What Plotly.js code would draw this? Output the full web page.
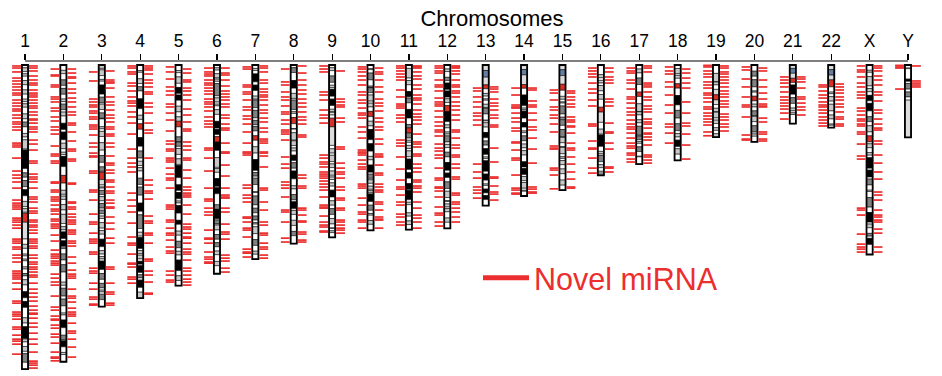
<!DOCTYPE html>
<html><head><meta charset="utf-8">
<script src="https://cdn.plot.ly/plotly-3.0.1.min.js"></script>
<style>html,body{margin:0;padding:0;background:#fff}#chart{width:942px;height:376px}</style>
</head><body><div id="chart"></div>
<script>
// ---- data ----
const chromosomes = ['1','2','3','4','5','6','7','8','9','10','11','12','13','14','15','16','17','18','19','20','21','22','X','Y'];
const chromLengths = [249.25,243.2,198.0,191.15,180.9,171.1,159.1,146.4,141.2,135.5,135.0,133.85,115.2,107.35,102.5,90.35,81.2,78.1,59.1,63.0,48.1,51.3,155.3,59.4];
// stain codes: 0 gneg,1 gpos25,2 gpos50,3 gpos75,4 gpos100,5 acen,6 gvar,7 stalk
const stainColors = ['#ffffff','#c8c8c8','#c8c8c8','#828282','#000000','#d92f27','#dcdcdc','#647fa4'];
// cytobands per chromosome: [end (Mb), stain code], start = previous end
const cytobands = [
[[2.3,0],[5.4,1],[7.2,0],[9.2,1],[12.7,0],[16.2,2],[20.4,0],[23.9,1],[28,0],[30,1],[31.8,0],[34.6,1],[40.1,0],[44.1,1],[46.8,0],[50.7,3],[56.1,0],[59,2],[61.3,0],[68.9,2],[69.7,0],[84.9,4],[88.4,0],[92,3],[94.7,0],[99.7,3],[102.2,0],[107.2,4],[111.8,0],[116.1,2],[117.8,0],[120.7,2],[121.5,0],[128.9,5],[142.6,6],[147,0],[150.3,2],[155,0],[156.5,2],[159.1,0],[160.5,2],[165.5,0],[167.2,2],[170.9,0],[172.9,3],[176,0],[180.3,2],[185.8,0],[190.8,4],[193.8,0],[198.7,4],[207.2,0],[211.5,1],[214.5,0],[224.1,4],[224.6,0],[227,1],[230.7,0],[234.7,2],[236.6,0],[243.7,3],[249.25,0]],
[[4.4,0],[7.1,2],[12.2,0],[16.7,3],[19.2,0],[24,3],[27.9,0],[30,1],[32.1,0],[36.6,3],[38.6,0],[41.8,2],[47.8,0],[52.9,4],[55,0],[61.3,4],[64.1,0],[68.6,2],[71.5,0],[73.5,2],[75,0],[83.3,4],[90.5,0],[96.8,5],[102.7,0],[106,2],[107.5,0],[110.2,1],[114.4,0],[118.8,2],[122.4,0],[129.9,2],[132.5,0],[135.1,1],[136.8,0],[142.2,4],[144.1,0],[148.7,4],[149.9,0],[150.5,1],[154.9,0],[159.8,3],[163.7,0],[169.7,3],[178,0],[180.6,2],[183,0],[189.4,3],[191.9,0],[197.4,3],[203.3,0],[204.9,2],[209,0],[215.3,4],[221.5,0],[225.2,3],[226.1,0],[231,4],[235.6,0],[237.3,2],[243.2,0]],
[[2.8,2],[4,0],[8.7,2],[11.8,0],[13.3,1],[16.4,0],[23.9,4],[26.4,0],[30.9,3],[32.1,0],[36.5,2],[39.3,0],[43.7,3],[44.1,0],[44.2,2],[50.6,0],[52.3,1],[54.4,0],[58.6,2],[63.7,0],[69.8,2],[74.2,0],[79.8,3],[83.5,0],[87.2,3],[87.9,0],[93.9,5],[98.3,6],[100,0],[100.9,1],[102.8,0],[106.2,3],[107.9,0],[111.3,2],[113.5,0],[117.3,3],[119,0],[121.9,3],[123.8,0],[125.8,1],[129.2,0],[133.7,1],[135.7,0],[138.7,1],[142.8,0],[148.9,4],[152.1,0],[155,2],[157,0],[159,2],[160.7,0],[167.6,4],[170.9,0],[175.7,3],[179,0],[182.7,3],[184.5,0],[186,1],[187.9,0],[192.3,3],[198,0]],
[[4.5,0],[6,1],[11.3,0],[15.2,2],[17.8,0],[21.3,3],[27.7,0],[35.8,4],[41.2,0],[44.6,2],[48.2,0],[52.7,5],[59.5,0],[66.6,4],[70.5,0],[76.3,3],[78.9,0],[82.4,2],[84.1,0],[86.9,1],[92.8,0],[97.9,3],[100.1,0],[106.7,3],[113.2,0],[119.9,4],[122.8,0],[134,3],[137.1,0],[140.3,2],[141.5,0],[150.4,4],[152.1,0],[154.6,1],[155.9,0],[158.9,1],[160.9,0],[163.3,4],[164.5,0],[170.1,4],[171.9,0],[174.5,3],[176.3,0],[182.3,4],[186.2,0],[191.15,1]],
[[4.5,0],[6.3,1],[9.8,0],[15,2],[18.4,0],[23.3,4],[24.6,0],[28.9,4],[33.8,0],[38.4,1],[42.5,0],[46.1,2],[50.7,5],[58.9,0],[62.9,3],[63.2,0],[66.7,3],[68.4,0],[73.3,2],[76.9,0],[81.5,2],[82.4,0],[92.3,4],[98.2,0],[102.8,4],[104.5,0],[109.6,4],[111.5,0],[113.1,2],[115.2,0],[121.4,4],[127.3,0],[130.6,4],[136.2,0],[139.5,1],[144.5,0],[149.8,3],[152.7,0],[155.7,2],[159.9,0],[168.5,4],[172.8,0],[176.6,1],[180.9,0]],
[[2.3,0],[4.2,1],[7.1,0],[10.6,2],[11.6,0],[13.4,1],[15.2,0],[25.2,3],[27,0],[30.4,2],[32.1,0],[33.5,1],[36.6,0],[40.5,1],[46.2,0],[51.8,4],[52.9,0],[57,4],[58.7,0],[63.3,5],[63.4,0],[70,4],[75.9,0],[83.9,2],[84.9,0],[88,2],[93.1,0],[99.5,4],[100.6,0],[105.5,4],[114.6,0],[118.3,3],[118.5,0],[126.1,4],[127.1,0],[130.3,3],[131.2,0],[135.2,2],[139,0],[142.8,3],[145.6,0],[149,3],[152.5,0],[155.5,2],[161,0],[164.5,2],[171.1,0]],
[[2.8,0],[4.5,1],[7.3,0],[13.8,4],[16.5,0],[20.9,4],[25.5,0],[28,2],[28.8,0],[35,3],[37.2,0],[43.3,3],[45.4,0],[49,3],[50.5,0],[54,3],[58,0],[61.7,5],[67,0],[72.2,2],[77.5,0],[86.4,4],[88.2,0],[91.1,3],[92.8,0],[98,3],[103.8,0],[104.5,2],[107.4,0],[114.6,3],[117.4,0],[121.1,3],[123.8,0],[127.1,3],[129.2,0],[130.4,1],[132.6,0],[138.2,2],[143.1,0],[147.9,3],[152.6,0],[155.1,1],[159.1,0]],
[[2.2,0],[6.2,3],[12.7,0],[19,4],[23.3,0],[27.4,2],[28.8,0],[36.5,3],[38.3,0],[39.7,1],[43.1,0],[48.1,5],[52.2,0],[52.6,3],[55.5,0],[61.6,2],[62.2,0],[66,2],[68,0],[70.5,2],[73.9,0],[78.3,4],[80.1,0],[84.6,3],[86.9,0],[93.3,4],[99,0],[101.6,1],[106.2,0],[110.5,3],[112.1,0],[117.7,4],[119.2,0],[122.5,2],[127.3,0],[131.5,2],[136.4,0],[139.9,3],[146.4,0]],
[[2.2,0],[4.6,1],[9,0],[14.2,3],[16.6,0],[18.5,1],[19.9,0],[25.6,4],[28,0],[33.2,4],[36.3,0],[38.4,1],[38.8,0],[41,6],[43.6,0],[50.7,5],[65.9,6],[68.7,0],[72.2,1],[74,0],[79.2,2],[81.1,0],[84.1,2],[86.9,0],[90.4,2],[91.8,0],[93.9,1],[96.6,0],[99.3,1],[102.6,0],[108.2,4],[111.3,0],[114.9,1],[117.7,0],[122.5,3],[125.8,0],[130.3,1],[133.5,0],[134,1],[135.9,0],[137.4,1],[141.2,0]],
[[3,0],[3.8,1],[6.6,0],[12.2,3],[17.3,0],[18.6,3],[18.7,0],[22.6,3],[24.6,0],[29.6,2],[31.3,0],[34.4,1],[38,0],[42.3,5],[46.1,0],[49.9,1],[52.9,0],[61.2,4],[64.5,0],[70.6,4],[74.9,0],[77.7,2],[82,0],[87.9,4],[89.5,0],[92.9,3],[94.1,0],[97,2],[99.3,0],[101.9,2],[103,0],[104.9,1],[105.8,0],[111.9,4],[114.9,0],[119.1,3],[121.7,0],[123.1,2],[127.5,0],[130.6,2],[135.5,0]],
[[2.8,0],[10.7,2],[12.7,0],[16.2,2],[21.7,0],[26.1,4],[27.2,0],[31,3],[36.4,0],[43.5,4],[48.8,0],[51.6,3],[55.7,5],[59.9,3],[61.7,0],[63.4,1],[65.9,0],[68.4,1],[70.4,0],[75.2,2],[77.1,0],[85.6,4],[88.3,0],[92.8,4],[97.2,0],[102.1,4],[102.9,0],[110.4,4],[112.5,0],[114.5,2],[121.2,0],[123.9,2],[127.8,0],[130.8,2],[135,0]],
[[3.3,0],[5.4,1],[10.1,0],[12.8,3],[14.8,0],[20,4],[21.3,0],[26.3,4],[27.7,0],[30.7,2],[33.3,0],[38.2,5],[46.4,4],[49.1,0],[51.5,1],[54.9,0],[56.6,1],[58.1,0],[63.1,3],[65.1,0],[67.7,2],[71.5,0],[75.3,3],[79.9,0],[86.3,4],[88.6,0],[92.2,4],[95.8,0],[101.2,3],[103.5,0],[108.6,2],[111.1,0],[111.9,1],[113.9,0],[116.4,2],[117.7,0],[120.3,2],[125.4,0],[128.9,2],[133.85,0]],
[[4.5,6],[10,7],[16.3,6],[19.5,5],[23.3,0],[25.5,1],[27.8,0],[28.9,1],[32.2,0],[34.8,2],[35.5,0],[40.1,3],[45.2,0],[45.8,1],[47.3,0],[50.9,2],[55.3,0],[59.6,4],[62.3,0],[65.7,3],[68.6,0],[73.3,4],[75.4,0],[76.7,2],[78.5,0],[87.1,4],[89.4,0],[94.4,4],[97.5,0],[98.7,1],[101.7,0],[104.8,4],[107,0],[110.3,4],[115.2,0]],
[[3.7,6],[8.1,7],[16.1,6],[19.1,5],[24.6,0],[33.3,4],[35.3,0],[36.6,2],[37.8,0],[43.5,4],[47.2,0],[50.9,4],[54.1,0],[55.5,1],[58.1,0],[62.1,3],[64.8,0],[67.9,2],[70.2,0],[73.8,2],[79.3,0],[83.6,4],[84.9,0],[89.8,4],[91.4,0],[94.8,1],[96.3,0],[101,2],[102.7,0],[103.5,2],[107.35,0]],
[[3.9,6],[8.7,7],[15.8,6],[20.7,5],[25.7,0],[28.1,2],[30.3,0],[31.2,2],[33.6,0],[40.1,3],[42.8,0],[43.6,1],[44.8,0],[49.5,3],[52.9,0],[59.1,3],[59.3,0],[63.7,1],[67.2,0],[67.3,1],[67.5,0],[72.7,1],[75.2,0],[76.6,1],[78.3,0],[81.7,2],[85.2,0],[89.1,2],[94.3,0],[98.5,2],[102.5,0]],
[[7.9,0],[10.5,2],[12.6,0],[14.8,2],[16.8,0],[21.2,2],[24.2,0],[28.1,2],[34.6,0],[38.6,5],[47,6],[52.6,0],[56.7,2],[57.4,0],[66.7,4],[70.8,0],[72.9,2],[74.1,0],[79.2,3],[81.7,0],[84.2,2],[87.1,0],[88.7,1],[90.35,0]],
[[3.3,0],[6.5,2],[10.7,0],[16,3],[22.2,0],[25.8,5],[31.8,0],[38.1,2],[38.4,0],[40.9,1],[44.9,0],[47.4,1],[50.2,0],[57.6,3],[58.3,0],[61.1,3],[62.6,0],[64.2,2],[67.1,0],[70.9,3],[74.8,0],[75.3,1],[81.2,0]],
[[2.9,0],[7.1,2],[8.5,0],[10.9,1],[15.4,0],[19,5],[25,0],[32.7,4],[37.2,0],[43.5,3],[48.2,0],[53.8,3],[56.2,0],[59,2],[61.6,0],[66.8,4],[68.7,0],[73.1,1],[78.1,0]],
[[6.9,0],[13.9,1],[14,0],[16.3,1],[20,0],[24.4,6],[28.6,5],[32.4,6],[35.5,0],[38.3,1],[38.7,0],[43.4,1],[45.2,0],[48,1],[51.4,0],[53.6,1],[56.3,0],[59.1,1]],
[[5.1,0],[9.2,3],[12.1,0],[17.9,3],[21.3,0],[22.3,1],[25.6,0],[29.4,5],[32.1,0],[34.4,1],[37.6,0],[41.7,3],[42.1,0],[46.4,1],[49.8,0],[55,3],[56.5,0],[58.4,2],[63,0]],
[[2.8,6],[6.8,7],[10.9,6],[14.3,5],[16.4,0],[24,4],[26.8,0],[31.5,3],[35.3,0],[37.6,2],[39.2,0],[40.6,2],[48.1,0]],
[[3.8,6],[8.3,7],[12.2,6],[17.9,5],[22.2,0],[23.5,1],[25.9,0],[29.6,2],[32.2,0],[37.6,2],[41,0],[44.2,2],[48.4,0],[49.4,2],[51.3,0]],
[[4.3,0],[6,2],[9.5,0],[17.1,2],[19.3,0],[21.9,2],[24.9,0],[29.3,4],[31.5,0],[37.6,4],[42.4,0],[46.4,3],[49.8,0],[54.8,1],[58.1,0],[63,5],[64.6,0],[67.8,2],[71.8,0],[73.9,2],[76,0],[84.6,4],[86.2,0],[91.8,4],[93.5,0],[98.3,3],[102.6,0],[103.7,2],[108.7,0],[116.5,3],[120.9,0],[128.8,4],[130.4,0],[133.4,1],[138,0],[140.3,3],[142.1,0],[147.1,4],[155.3,0]],
[[2.5,0],[3,2],[11.6,0],[13.4,4],[15.1,0],[19.8,3],[22.1,0],[26.2,3],[28.8,0],[59.4,6]]
];
// novel miRNA positions (Mb), drawn left / right of each chromosome
const novelLeft = [
[0.8,2.5,5.7,10.7,13.1,15.6,18,20.5,23,24.6,28.7,31.2,33.6,36.1,37.7,41,43.5,46.7,48.4,50.8,53.3,64,65.6,67.2,76.3,86.9,90.2,92.7,95.9,100.9,110.7,113.2,114.8,116.4,118.1,125.5,127.1,128.8,131.2,133.7,142.7,144.3,146,149.2,150.9,155.8,158.2,161.5,168.9,170.6,172.2,173.8,175.4,178.7,183.7,193.5,195.2,202.5,204.2,205.8,208.3,214.8,216.5,221.4,224.7,226.3,228.8,237],
[3.3,8.2,9,16.4,18,26.2,27.9,30.3,35.3,37.7,42.6,45.9,50.8,53.3,56.6,66.4,73,74.6,78.7,80.4,95.9,96.8,102.5,104.1,108.2,109.9,111.5,114.8,118.1,119.7,122.2,126.3,127.9,130.4,132,133.7,139.4,144.3,151.7,155,156.6,158.3,160.7,162.4,164,171.4,174.7,177.9,180.4,189.4,198.4,200.9,205.8,208.3,209.1,213.2,215.7,220.6,223,228,235.3,239.4,240.3,242.5],
[5.7,13.1,27.9,30.3,32.8,34.4,37.7,39.4,42.6,44.3,49.2,50.8,52.5,57.4,64,67.2,72.2,74.6,75.4,86.9,88.6,102.5,104.1,110.7,122.2,128.7,130.4,137.8,142.7,144.3,146,153.3,155,166.5,168.9,170.6,178.8,183.7,190.2,191.9,196,196.8],
[0.8,2.5,5.7,7.4,14.8,17.2,21.3,26.2,29.5,31.2,33.6,38.5,42.6,47.6,56.6,68.9,76.3,80.4,83.6,87.7,105,110.7,115.6,120.5,129.6,141,146,147.6,155,162.4,163.2,165.6,173.8,175.5,178.8],
[1.6,5.7,11.5,18,21.3,24.6,32,34.4,39.4,45.1,54.1,62.3,64.8,68.9,70.5,76.3,77.9,79.5,84.5,89.4,92.7,94.3,100.9,114.8,116.4,118.1,127.1,128.7,133.7,137.8,139.4,143.5,149.2,152.5,154.2,168.9,172.2,176.3,177.9],
[2.5,5.7,7.4,9,12.3,14.8,16.4,18.9,21.3,23.8,27.9,30.3,32,34.4,37.7,42.6,45.9,48.4,50.8,68.1,69.7,76.3,86.9,100.9,109.9,111.5,117.3,120.5,123,135.3,141.9,142.7,146,153.3,157.4,159.1,161.5,162.4],
[1.6,3.3,16.4,18,22.1,23.8,28.7,34.4,36.9,41.8,44.3,48.4,54.9,64,71.3,72.2,73.8,98.4,100.9,106.6,109.1,112.3,124.6,125.5,128.7,133.7,135.3,141,150.9,153.3,154.2,157.4],
[3.3,13.9,16.4,22.1,26.2,28.7,33.6,38.5,40.2,45.1,48.4,53.3,54.9,56.6,61.5,75.4,81.2,84.5,95.9,98.4,100.9,108.2,118.9,120.5,128.7,141.9,145.1],
[0.8,3.3,5.7,22.1,24.6,28.7,36.9,41,43.5,47.6,73.8,76.3,79.5,81.2,83.6,87.7,89.4,91,92.7,95.1,97.6,100,102.5,108.2,114.8,116.4,117.3,123.8,128.7,131.2,132.8,136.1,136.9],
[1.6,3.3,5.7,9,12.3,16.4,22.1,24.6,28.7,31.2,35.3,39.4,41,43.5,50.8,54.9,59.9,69.7,71.3,72.2,73.8,77.9,81.2,83.6,85.3,97.6,99.2,100.9,109.1,114.8,120.5,122.2,127.1,128.7,133.7],
[0.8,2.5,4.9,7.4,9.8,12.3,20.5,26.2,32,33.6,35.3,41,43.5,46.7,61.5,64,66.4,75.4,85.3,94.3,100,101.7,106.6,112.3,114.8,122.2,124.6,128.7,131.2],
[0.8,2.5,4.9,6.6,12.3,16.4,18,21.3,27.1,30.3,32,33.6,37.7,42.6,46.7,50,53.3,54.9,58.2,64.8,68.1,70.5,73.8,76.3,84.5,92.7,94.3,100,100.9,103.3,108.2,116.4,121.4,123,128.7,132],
[18.9,21.3,26.2,30.3,34.4,39.4,41.8,45.1,49.2,81.2,87.7,92.7,100,102.5,105,109.1],
[18.9,24.6,32.8,34.4,35.3,39.4,43.5,46.7,51.7,54.1,63.1,63.9,69.7,76.3,77.9,90.2,100.9,102.5,105,105.8],
[20.5,23,28.7,34.4,36.9,41,43.5,48.4,54.9,66.4,68.1,68.9,84.5,86.1,90.2,101.5],
[2.5,4.9,7.4,9.8,14.8,19.7,23,28.7,33.6,48.4,50,62.3,68.1,68.9,76.3,84.5,88.6],
[2.5,4.9,6.6,12.3,14.8,19.7,26.2,27.9,31.2,35.3,38.5,41,45.1,48.4,50.8,52.5,55.8,59.9,64,66.4,68.1,72.2,73.8,77.1,79.5],
[1.6,4.9,7.4,13.9,18,24.6,32.8,39.4,48.4,50.8,55.8,64],
[0.3,1.6,4.9,7.4,9.8,13.9,16.4,18.9,23,24.6,27.1,30.3,34.4,36.1,39.4,41.8,44.3,46.7,49.2,54.9,58],
[1.6,4.1,11.5,18,26.2,32.8,34.4,42.6,57.4,60.7,61.5],
[9.8,12.3,14.8,18,22.1,26.2,28.7,31.2,33.6,36.1,39.4,44.3],
[16.4,18,21.3,24.6,27.1,30.3,32.8,34.4,36.9,39.4,42.6,45.1,47.6,50],
[0.8,4.1,5.7,9.8,14.8,18,22.1,24.6,27.1,35.3,37.7,41,44.3,45.9,48.4,50,54.9,56.6,64.8,74.6,77.1,117.3,118.9,123,138.6,146.8,149.2,150.9,153.3],
[0.3,1.6,2.5,19.7]
];
const novelRight = [
[0.8,2.5,4.9,9,12.3,14.8,16.4,20.5,23,24.6,26.2,28.7,31.2,33.6,35.3,38.5,41,44.3,45.1,47.6,50.8,52.5,54.9,61.5,64.8,69.7,78.7,80.4,89.4,91.8,93.5,95.9,100.9,108.2,109.9,112.3,117.3,119.7,121.4,127.1,128.7,131.2,132.8,135.3,137.8,142.7,144.3,146,148.4,150.1,155.8,158.3,161.5,163.2,165.6,167.3,169.7,172.2,173.8,178.8,183.7,187,190.2,193.5,197.6,200.9,203.4,204.2,207.5,211.6,214.8,219.8,224.7,228.8,235.3,242.7,244.3,246,248.4],
[3.3,6.6,9.8,10.7,14.8,19.7,23,27.1,30.3,34.4,38.5,41,47.6,49.2,54.9,62.3,68.9,70.5,77.1,78.7,96.8,97.6,112.3,113.2,116.4,118.1,122.2,124.6,127.1,128.7,130.4,135.3,136.9,138.6,144.3,146,148.4,157.4,162.4,168.1,171.4,173,174.7,183.7,189.4,191.1,194.3,199.3,202.5,204.2,205.8,211.6,218.1,219.8,224.7,231.2,239.4],
[4.9,12.3,13.9,14.8,18.9,26.2,30.3,32.8,36.9,41,43.5,46.7,50.8,52.5,56.6,58.2,64,67.2,74.6,80.4,82,86.1,88.6,94.3,95.9,100,103.3,105,110.7,113.2,116.4,117.3,124.6,129.6,134.5,141.9,146,165.6,167.3,178.8,186.1,187.8,195.2,196.8],
[0.8,2.5,4.1,7.4,12.3,14.8,18,22.1,23.8,31.2,34.4,39.4,47.6,53.3,55.8,76.3,94.3,98.4,103.3,105,109.9,123.8,127.9,129.6,137.8,139.4,146,159.1,160.7,168.9,172.2,177.9,187,187.8],
[3.3,6.6,12.3,13.9,18.9,21.3,24.6,28.7,36.1,41,46.7,52.5,54.1,63.1,66.4,69.7,76.3,77.9,86.1,92.7,100,102.5,105,106.6,108.2,114.8,122.2,130.4,132.8,134.5,137.8,141,141.9,146,150.9,153.3,155,159.9,166.5,168.9,172.2,175.5,177.9,180.4],
[2.5,6.6,8.2,12.3,17.2,21.3,23.8,26.2,28.7,32,34.4,41,43.5,48.4,51.7,53.3,64,71.3,72.2,82,91,100.9,106.6,108.2,109.1,117.3,120.5,130.4,136.9,138.6,142.7,155.8,158.3,160.7,166.5,169.7],
[0.8,2.5,5.7,12.3,14.8,19.7,22.1,24.6,26.2,28.7,32.8,36.9,39.4,43.5,46.7,51.7,54.9,60.7,62.3,64,71.3,72.2,74.6,83.6,100.9,102.5,112.3,118.9,128.7,131.2,137.8,139.4,146,149.2,150.9,155.8,158.3],
[0.8,6.6,12.3,16.4,20.5,23.8,27.9,31.2,34.4,38.5,42.6,45.1,48.4,57.4,59,90.2,92.7,99.2,100.9,117.3,118.9,123,127.9,128.7,136.9,138.6,143.5,145.1],
[4.9,27.9,30.3,32.8,34.4,43.5,46.7,67.2,68.9,80.4,84.5,87.7,89.4,92.7,100,102.5,109.1,110.7,117.3,118.9,127.1,128.7,131.2,133.7,135.3,137.8],
[2.5,5.7,7.4,12.3,18,22.1,27.9,31.2,33.6,37.7,43.5,46.7,50.8,53.3,60.7,64.8,73,74.6,75.4,82,88.6,90.2,97.6,100,102.5,104.1,112.3,114,118.9,124.6,126.3,127.1,133.7],
[0.8,1.6,2.5,5.7,9,11.5,16.4,19.7,24.6,27.1,28.7,32,36.9,40.2,42.6,45.1,48.4,56.6,63.1,64.8,67.2,73,74.6,81.2,84.5,87.7,94.3,95.9,99.2,100.9,104.1,112.3,117.3,123,125.5,128.7,133.7],
[0.8,1.6,2.5,4.9,7.4,12.3,16.4,18,21.3,23,26.2,30.3,33.6,36.9,41,45.1,53.3,54.9,59.9,65.6,68.1,73.8,75.4,81.2,84.5,91.8,93.5,105,106.6,112.3,114,117.3,120.5,124.6,128.7],
[18,19.7,22.1,27.9,31.2,33.6,36.9,41,43.5,49.2,50.8,68.1,79.5,91.8,92.7,99.2,104.1,105.8,110.7],
[18.9,20.5,29.5,32.8,34.4,39.4,45.1,50.8,53.3,59.9,68.9,80.4,100,101.7,104.1,105],
[21.3,23,26.2,28.7,32,34.4,42.6,45.1,46.7,50,50.8,55.8,64,68.1,69.7,75.4,81.2,87.7,93.5,100,100.9],
[2.5,5.7,9.8,12.3,14.8,27.9,30.3,33.6,47.6,54.9,55.8,64,68.9,83.6,84.5,87.7],
[0.8,2.5,5.7,14.8,16.4,18,22.1,26.2,28.7,33.6,36.1,38.5,44.3,46.7,48.4,51.7,55.8,56.6,59,61.5,65.6,73.8,75.4,77.9,80.4],
[3.3,6.6,10.7,14.8,18.9,30.3,39.4,47.6,50,56.6,65.6,77.1],
[0.8,2.5,5.7,7.4,9.8,12.3,14.8,18,21.3,23.8,26.2,29.5,32,34.4,40.2,42.6,45.1,48.4,50.8,54.1],
[2.5,4.9,12.3,18,23,27.9,32,33.6,34.4,43.5,46.7,54.9,56.6,60.7,62.3],
[9.8,11.5,13.9,18.9,26.2,27.9,31.2,34.4,36.9,41],
[15.6,18,20.5,23,26.2,28.7,32,34.4,38.5,42.6,44.3,48.4,50],
[0.8,2.5,4.9,9,12.3,16.4,22.1,24.6,29.5,36.9,39.4,44.3,48.4,51.7,53.3,62.3,64.8,73.8,80.4,87.7,93.5,104.1,106.6,110.7,118.9,123,124.6,127.1,128.7,134.5,137.8,149.2,153.3],
[0.8,13.1,14.8,16.4,18]
];
const legendLabel = 'Novel miRNA';

// ---- build traces ----
const RED = '#ec2e2e';
const FONT = 'Liberation Sans, Arial, sans-serif';
const idx = chromosomes.map((c, i) => i + 1);

const bx = [], bbase = [], bh = [], bcol = [];
cytobands.forEach((bands, i) => {
  let s = 0;
  bands.forEach(([e, c]) => { bx.push(i + 1); bbase.push(s); bh.push(e - s); bcol.push(stainColors[c]); s = e; });
});

const dx = [], dy = [];
novelLeft.forEach((arr, i) => arr.forEach(p => { dx.push(i + 1 - 0.335, i + 1 - 0.105, null); dy.push(p, p, null); }));
novelRight.forEach((arr, i) => arr.forEach(p => { dx.push(i + 1 + 0.105, i + 1 + 0.335, null); dy.push(p, p, null); }));

const traces = [
  { type: 'scatter', mode: 'lines', x: dx, y: dy, line: { color: RED, width: 1.7 }, hoverinfo: 'skip', showlegend: false },
  { type: 'bar', x: bx, y: bh, base: bbase, width: 0.16, marker: { color: bcol, line: { color: '#000', width: 0.55 } }, hoverinfo: 'skip', showlegend: false },
  { type: 'bar', x: idx, y: chromLengths, base: 0, width: 0.16, marker: { color: 'rgba(0,0,0,0)', line: { color: '#000', width: 1.8 } }, hoverinfo: 'skip', showlegend: false },
  { type: 'scatter', mode: 'lines', x: [null], y: [null], name: legendLabel, line: { color: RED, width: 5 }, showlegend: true }
];

const layout = {
  width: 942, height: 376,
  margin: { l: 0, r: 0, t: 61, b: 0, pad: 0 },
  paper_bgcolor: '#fff', plot_bgcolor: 'rgba(0,0,0,0)',
  barmode: 'overlay',
  title: { text: 'Chromosomes', x: 492 / 942, xanchor: 'center', y: 1 - 18 / 376, yanchor: 'middle', font: { family: FONT, size: 22, color: '#000' } },
  xaxis: { range: [0.349, 24.886], side: 'top', tickmode: 'array', tickvals: idx, ticktext: chromosomes,
           ticks: 'outside', ticklen: 6, tickwidth: 1.2, tickcolor: '#000', showgrid: false, zeroline: false, showline: false,
           tickfont: { family: FONT, size: 17.5, color: '#000' }, fixedrange: true },
  yaxis: { range: [254.9, -3.28], visible: false, fixedrange: true },
  shapes: [{ type: 'line', xref: 'x', yref: 'paper', x0: 1, x1: 24, y0: 1, y1: 1, line: { color: '#000', width: 1.2 } }],
  showlegend: true,
  legend: { x: 478 / 942, y: 0.311, xanchor: 'left', yanchor: 'middle', bgcolor: 'rgba(0,0,0,0)', itemwidth: 46,
            font: { family: FONT, size: 30.5, color: RED } }
};

Plotly.newPlot('chart', traces, layout, { displayModeBar: false, staticPlot: true });
</script>
</body></html>
